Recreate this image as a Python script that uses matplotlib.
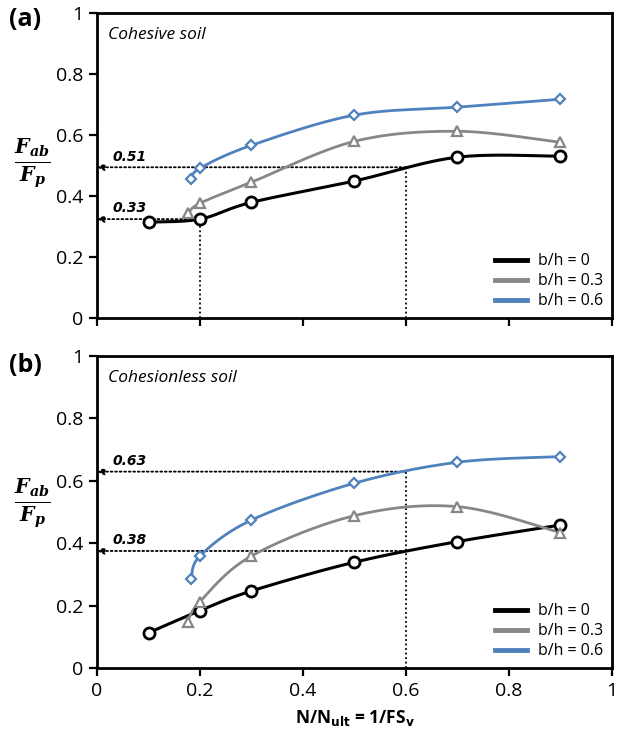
import numpy as np
import matplotlib
matplotlib.use("Agg")
import matplotlib.pyplot as plt
from matplotlib.lines import Line2D

plt.rcParams['font.family'] = ['Open Sans', 'DejaVu Sans']
plt.rcParams['mathtext.fontset'] = 'dejavusans'

# ---- data ----
# panel (a) cohesive soil
a_x0 = [0.1, 0.2, 0.3, 0.5, 0.7, 0.9]
a_y0 = [0.315, 0.325, 0.38, 0.45, 0.528, 0.531]
a_x3 = [0.177, 0.2, 0.3, 0.5, 0.7, 0.9]
a_y3 = [0.344, 0.377, 0.446, 0.58, 0.613, 0.577]
a_x6 = [0.183, 0.2, 0.3, 0.5, 0.7, 0.9]
a_y6 = [0.456, 0.492, 0.567, 0.666, 0.692, 0.718]
# panel (b) cohesionless soil
b_x0 = [0.1, 0.2, 0.3, 0.5, 0.7, 0.9]
b_y0 = [0.113, 0.184, 0.247, 0.339, 0.405, 0.458]
b_x3 = [0.176, 0.2, 0.3, 0.5, 0.7, 0.9]
b_y3 = [0.149, 0.213, 0.359, 0.488, 0.517, 0.434]
b_x6 = [0.183, 0.2, 0.3, 0.5, 0.7, 0.9]
b_y6 = [0.284, 0.359, 0.474, 0.592, 0.659, 0.677]

legend_labels = ['b/h = 0', 'b/h = 0.3', 'b/h = 0.6']
ticks = [0, 0.2, 0.4, 0.6, 0.8, 1]
tick_labels = ['0', '0.2', '0.4', '0.6', '0.8', '1']

# reference guide lines: (x_read, y_line, label)
a_guides = [(0.6, 0.495, '0.51'), (0.2, 0.325, '0.33')]
b_guides = [(0.6, 0.629, '0.63'), (0.6, 0.375, '0.38')]

colors = ['black', '#878787', '#4F81BD']
markers = ['o', '^', 'D']


def smooth(x, y, n=30):
    """Excel-like smoothing (uniform Catmull-Rom / Bezier through points)."""
    p = np.column_stack([x, y]).astype(float)
    pts = []
    for i in range(len(p) - 1):
        p0 = p[i - 1] if i > 0 else p[i]
        p1 = p[i]
        p2 = p[i + 1]
        p3 = p[i + 2] if i + 2 < len(p) else p[i + 1]
        c1 = p1 + (p2 - p0) / 6.0
        c2 = p2 - (p3 - p1) / 6.0
        t = np.linspace(0, 1, n)[:, None]
        seg = ((1 - t) ** 3) * p1 + 3 * ((1 - t) ** 2) * t * c1 + 3 * (1 - t) * t ** 2 * c2 + t ** 3 * p2
        if i > 0:
            seg = seg[1:]
        pts.append(seg)
    pts = np.vstack(pts)
    return pts[:, 0], pts[:, 1]


fig = plt.figure(figsize=(6.18, 7.35), dpi=100)
ax_a = fig.add_axes([0.157, 0.567, 0.833, 0.415])
ax_b = fig.add_axes([0.157, 0.091, 0.833, 0.425])


def draw(ax, series, guides, vlines, title, show_xlabels):
    for i, (xs, ys) in enumerate(series):
        sx, sy = smooth(xs, ys)
        ax.plot(sx, sy, color=colors[i], lw=2.2 if i == 0 else 2.0, zorder=3, solid_capstyle='round')
        ms = 8 if i == 0 else 6.5
        mew = 2.0 if i == 0 else 1.6
        ax.plot(xs, ys, ls='none', marker=markers[i], ms=ms if i != 2 else 5.5,
                mfc='white', mec=colors[i], mew=mew, zorder=4)
    for (xr, yl, lab) in guides:
        ax.annotate('', xy=(0.0, yl), xytext=(xr, yl),
                    arrowprops=dict(arrowstyle='-|>', linestyle=(0, (1, 1.5)), color='black',
                                    lw=1.3, shrinkA=0, shrinkB=0, mutation_scale=10),
                    zorder=2, annotation_clip=False)
        ax.text(0.03, yl + 0.012, lab, fontsize=10, fontweight='bold', style='italic',
                ha='left', va='bottom', family='DejaVu Sans')
    for (xr, yt) in vlines:
        ax.plot([xr, xr], [0, yt], color='black', lw=1.3, ls=(0, (1, 1.5)), zorder=2)
    ax.set_xlim(0, 1)
    ax.set_ylim(0, 1)
    ax.set_xticks(ticks)
    ax.set_yticks(ticks)
    ax.set_yticklabels(tick_labels)
    if show_xlabels:
        ax.set_xticklabels(tick_labels)
    else:
        ax.set_xticklabels([])
    ax.tick_params(direction='out', length=6, width=1.6, labelsize=14, pad=4)
    for s in ax.spines.values():
        s.set_linewidth(2.0)
    ax.text(0.022, 0.955, title, transform=ax.transAxes, fontsize=12.5, style='italic',
            ha='left', va='top')
    handles = [Line2D([0], [0], color=c, lw=3.5) for c in colors]
    ax.legend(handles, legend_labels, loc='lower right', frameon=False, fontsize=11.5,
              handlelength=2.0, handletextpad=0.7, labelspacing=0.25,
              borderaxespad=0.15, bbox_to_anchor=(1.0, 0.0))


draw(ax_a, [(a_x0, a_y0), (a_x3, a_y3), (a_x6, a_y6)], a_guides,
     [(0.2, 0.325), (0.6, 0.495)], 'Cohesive soil', False)
draw(ax_b, [(b_x0, b_y0), (b_x3, b_y3), (b_x6, b_y6)], b_guides,
     [(0.6, 0.629)], 'Cohesionless soil', True)

ax_b.set_xlabel(r'N/N$_{\mathbf{ult}}$ = 1/FS$_{\mathbf{v}}$', fontsize=12.5, fontweight='bold',
                labelpad=6)

ylab = r'$\frac{\mathbfit{F}_{\mathbfit{ab}}}{\mathbfit{F}_{\mathbfit{p}}}$'
fig.text(0.053, 1 - 163 / 735, ylab, fontsize=21, ha='center', va='center',
         math_fontfamily='dejavuserif')
fig.text(0.053, 1 - 503 / 735, ylab, fontsize=21, ha='center', va='center',
         math_fontfamily='dejavuserif')

fig.text(0.014, 1 - 19 / 735, '(a)', fontsize=18, fontweight='bold', ha='left', va='center')
fig.text(0.014, 1 - 365 / 735, '(b)', fontsize=18, fontweight='bold', ha='left', va='center')

fig.savefig('out.png', dpi=100)
